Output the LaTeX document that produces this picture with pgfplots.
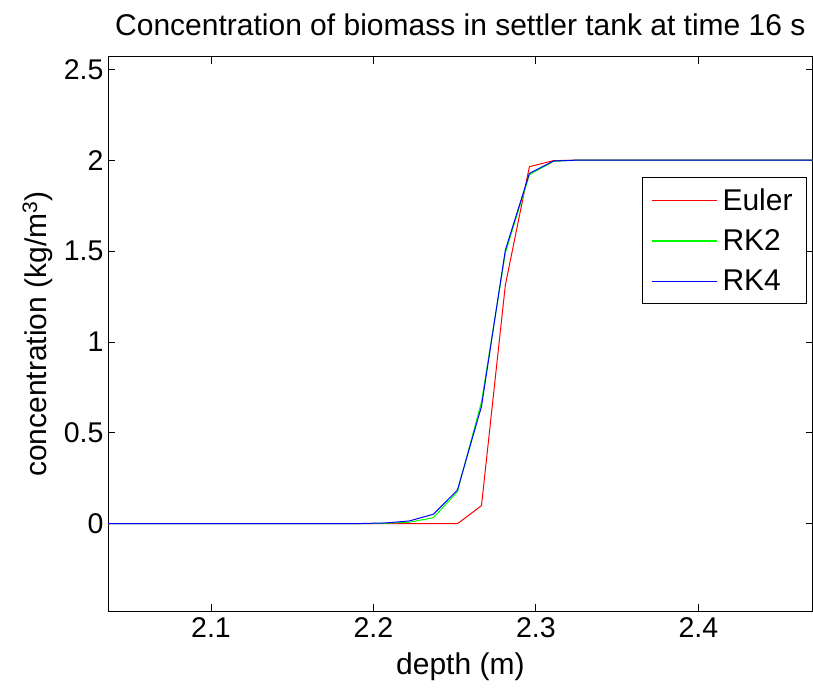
\documentclass[border=0pt]{standalone}
\usepackage{pgfplots}
\pgfplotsset{compat=1.18}
\usepackage{fontspec}
\setmainfont{Liberation Sans}
\begin{document}
\begin{tikzpicture}[x=1pt,y=1pt]
\useasboundingbox (0,0) rectangle (813,688);
\begin{axis}[
  at={(108pt,76.7pt)}, anchor=south west,
  scale only axis, width=704.7pt, height=554.6pt,
  xmin=2.0366, xmax=2.4704, ymin=-0.482, ymax=2.569,
  xtick={2.1,2.2,2.3,2.4},
  xticklabels={2.1,2.2,2.3,2.4},
  ytick={0,0.5,1,1.5,2,2.5},
  yticklabels={0,0.5,1,1.5,2,2.5},
  tick align=inside, major tick length=7pt,
  tick style={black, line width=0.8pt},
  axis line style={black, line width=1pt},
  /pgf/number format/assume math mode=true,
  font=\fontsize{30}{34}\selectfont,
  tick label style={font=\fontsize{28.5}{32}\selectfont},
  xticklabel style={yshift=-3pt},
  yticklabel style={xshift=-1pt},
  xlabel={depth (m)},
  ylabel={concentration (kg/m\textsuperscript{3})},
  xlabel style={at={(0.5,0)}, anchor=north, yshift=-38pt},
  ylabel style={at={(0,0.5)}, anchor=south, rotate=0, yshift=52pt},
  title={Concentration of biomass in settler tank at time 16 s},
  title style={at={(0.5,1)}, anchor=south, yshift=11pt, font=\fontsize{30}{34}\selectfont},
  legend style={at={(0.992,0.783)}, anchor=north east, draw=black, line width=1pt,
    font=\fontsize{30}{34}\selectfont, row sep=14pt, inner xsep=9pt, inner ysep=9pt,
    nodes={inner xsep=5pt},
    cells={anchor=west}},
  legend image code/.code={\draw[#1, line width=1.2pt] (0pt,0pt) -- (65pt,0pt);},
  clip=true,
]
\addplot[color={rgb,255:red,255;green,0;blue,0}, line width=1pt] coordinates {
(2.03,0) (2.2517,0) (2.2665,0.099) (2.2812,1.313) (2.2960,1.964) (2.3108,1.997) (2.3255,2.0) (2.48,2.0)
};
\addlegendentry{Euler}
\addplot[color={rgb,255:red,0;green,255;blue,0}, line width=1pt] coordinates {
(2.03,0) (2.1926,0) (2.2073,0.002) (2.2221,0.008) (2.2369,0.033) (2.2517,0.176) (2.2665,0.67) (2.2812,1.49) (2.2960,1.92) (2.3108,1.993) (2.3255,2.0) (2.48,2.0)
};
\addlegendentry{RK2}
\addplot[color={rgb,255:red,0;green,0;blue,255}, line width=1pt] coordinates {
(2.03,0) (2.1926,0.001) (2.2073,0.004) (2.2221,0.015) (2.2369,0.052) (2.2517,0.185) (2.2665,0.645) (2.2812,1.505) (2.2960,1.927) (2.3108,1.995) (2.3255,2.0) (2.48,2.0)
};
\addlegendentry{RK4}
\end{axis}
\end{tikzpicture}
\end{document}
